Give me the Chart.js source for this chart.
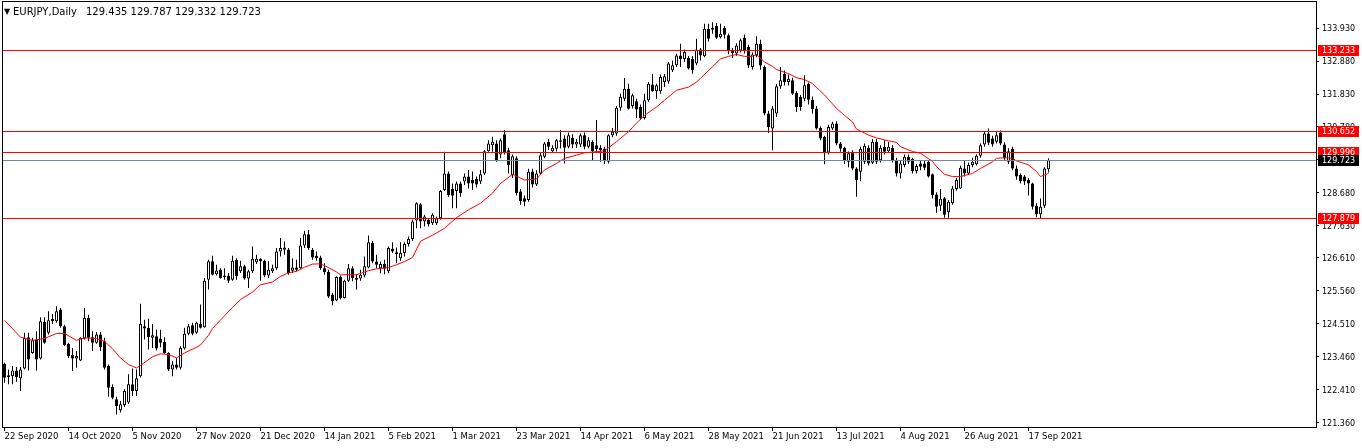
<!DOCTYPE html>
<html><head><meta charset="utf-8">
<script src="https://cdn.jsdelivr.net/npm/chart.js@4"></script>
<style>html,body{margin:0;padding:0;background:#fff;overflow:hidden}#wrap{width:1362px;height:448px}</style>
</head><body><div id="wrap"><canvas id="c" width="1362" height="448"></canvas></div>
<script>
const symbolTitle = 'EURJPY,Daily';
const lastQuote = ['129.435', '129.787', '129.332', '129.723'];

const opens = [
123.23,122.87,122.84,123.02,122.77,123.08,124.08,123.58,124.01,123.40,
124.57,124.22,124.66,124.59,124.96,124.43,123.87,123.51,123.40,123.34,
124.04,124.70,124.08,123.90,124.17,123.95,123.16,122.50,122.10,121.75,
121.92,122.00,122.58,122.37,122.84,124.43,124.38,124.06,124.11,124.04,
123.93,123.58,123.05,123.21,123.11,123.72,124.19,124.46,124.22,124.50,
124.40,125.91,126.50,126.09,126.24,126.05,126.05,125.91,126.55,126.18,
126.34,125.95,126.18,126.47,126.58,126.52,126.05,126.18,126.28,126.81,
126.87,126.87,126.20,126.30,126.28,127.00,127.36,126.87,126.68,126.62,
126.28,126.16,125.44,125.25,126.00,125.33,125.88,126.28,125.91,125.95,
126.05,126.30,127.08,126.49,126.28,126.41,126.18,126.90,126.79,126.60,
126.76,127.05,127.21,127.80,128.32,127.77,127.82,127.71,127.71,127.87,
128.77,129.30,128.80,128.74,128.98,129.04,129.20,129.09,129.12,129.04,
129.30,130.01,130.20,130.25,129.90,130.55,130.04,129.25,129.78,128.72,
128.51,128.45,129.36,128.95,129.30,129.83,130.31,130.01,130.09,130.31,
130.41,130.15,130.44,130.22,130.22,130.52,130.15,130.31,130.20,130.12,
130.09,129.67,130.52,130.57,131.39,131.68,132.00,131.45,131.60,131.42,
131.07,131.63,132.13,131.92,131.92,132.21,132.23,132.59,132.75,133.06,
132.95,132.98,132.95,132.80,133.25,133.03,133.91,133.94,134.00,133.64,
133.94,133.70,133.24,133.12,133.22,133.62,133.33,132.69,133.06,133.43,
132.69,131.21,130.73,131.21,132.08,132.48,132.21,132.27,131.87,131.74,
131.68,132.16,131.65,131.37,130.75,130.47,129.97,130.73,130.89,130.25,
130.12,129.67,129.99,129.46,129.35,129.67,130.12,129.64,130.31,129.72,
130.15,130.01,130.12,129.72,129.30,129.57,129.83,129.76,129.38,129.62,
129.62,129.67,129.27,128.63,128.27,128.51,128.06,128.35,128.80,128.82,
129.46,129.30,129.57,129.59,129.86,130.22,130.57,130.41,130.31,130.60,
130.22,129.67,130.09,129.46,129.25,129.20,129.09,128.98,128.27,128.00,
128.27,129.435];

const highs = [
123.27,123.05,123.16,123.13,123.13,124.22,124.22,124.06,124.27,124.72,
124.72,124.91,124.82,125.07,125.01,124.48,123.90,123.74,123.64,124.08,
125.01,124.80,124.27,124.25,124.25,124.06,123.21,122.58,122.18,122.05,
122.42,122.90,123.08,123.05,125.15,124.64,124.67,124.50,124.32,124.32,
124.08,123.60,123.32,123.42,123.80,124.38,124.50,124.54,124.57,125.12,
125.97,126.55,126.68,126.39,126.28,126.28,126.13,126.68,126.60,126.52,
126.39,126.23,126.97,126.71,126.60,126.55,126.50,126.39,126.92,127.24,
127.13,126.92,126.60,126.55,127.24,127.47,127.50,126.92,126.81,126.68,
126.44,126.23,125.49,126.02,126.05,125.91,126.41,126.34,126.09,126.23,
126.65,127.32,127.15,126.71,126.49,126.55,126.97,127.11,126.94,127.11,
127.11,127.29,127.82,128.38,128.35,127.98,127.87,128.03,127.93,128.77,
129.99,129.36,128.98,129.04,129.04,129.30,129.41,129.36,129.20,129.41,
130.04,130.36,130.47,130.36,130.41,130.68,130.12,129.90,129.85,128.80,
128.60,129.45,129.45,129.40,129.95,130.30,130.40,130.20,130.40,130.68,
130.52,130.60,130.55,130.40,130.57,130.60,130.45,130.36,131.00,130.20,
130.15,130.55,130.75,131.45,131.85,132.34,132.16,131.84,131.68,131.50,
131.84,132.21,132.47,132.16,132.45,132.47,132.85,132.90,133.11,133.43,
133.25,133.04,133.04,133.59,133.30,134.07,134.07,134.12,134.09,134.07,
134.00,133.75,133.30,133.45,133.60,133.73,133.40,133.15,133.67,133.56,
132.74,131.30,131.45,132.15,132.69,132.58,132.45,132.35,131.93,131.80,
132.43,132.20,131.75,131.45,130.80,130.50,130.85,130.95,130.96,130.30,
130.15,130.00,130.04,129.50,130.15,130.25,130.20,130.40,130.40,130.20,
130.36,130.30,130.20,129.80,129.70,129.90,129.90,129.80,129.60,129.72,
129.70,129.72,129.30,128.70,128.80,128.55,128.45,128.90,129.15,129.55,
129.73,129.65,129.80,129.90,130.25,130.63,130.73,130.50,130.63,130.67,
130.29,130.10,130.15,129.55,129.30,129.25,129.15,129.00,128.35,128.50,
129.50,129.787];

const lows = [
122.63,122.58,122.58,122.66,122.37,123.05,123.02,123.55,123.02,123.37,
123.87,124.17,124.50,124.54,124.38,123.80,123.42,123.00,123.11,123.32,
124.01,123.95,123.64,123.87,123.64,123.05,122.18,122.10,121.62,121.68,
121.86,121.95,122.21,122.21,122.80,124.01,123.69,123.74,123.66,123.76,
123.55,123.00,122.84,123.05,123.05,123.69,124.14,124.14,124.19,124.36,
124.38,125.60,126.05,126.05,125.95,125.91,125.81,125.88,125.91,126.13,
125.91,125.65,126.13,126.41,125.88,125.99,125.97,126.13,126.23,126.65,
126.71,126.07,126.13,126.18,126.26,126.92,126.87,126.55,126.52,126.23,
126.07,125.33,125.10,125.23,125.28,125.31,125.84,125.86,125.60,125.88,
125.99,126.28,126.44,126.28,126.12,126.09,126.12,126.76,126.44,126.52,
126.65,126.97,127.15,127.55,127.55,127.61,127.61,127.66,127.66,127.82,
128.74,128.56,128.19,128.19,128.56,128.93,128.82,128.77,128.85,128.96,
129.25,129.99,129.99,129.67,129.78,129.90,129.30,129.15,128.60,128.30,
128.25,128.40,128.85,128.90,129.25,129.78,130.05,129.95,130.00,130.10,
129.62,130.10,130.10,130.12,130.14,130.07,130.10,129.72,129.96,129.67,
129.60,129.62,130.45,130.50,131.30,131.60,131.34,131.37,131.07,131.00,
131.02,131.58,131.90,131.68,131.84,132.05,132.16,132.53,132.69,132.69,
132.85,132.61,132.48,132.75,132.90,133.00,133.50,133.75,133.58,133.60,
133.60,133.10,132.98,133.05,133.15,133.12,132.66,132.60,133.00,132.60,
131.15,130.59,130.04,131.10,132.00,132.10,132.10,131.80,131.26,131.30,
131.60,131.50,131.20,130.70,130.36,129.59,129.90,130.68,130.20,129.99,
129.60,129.50,129.40,128.56,129.05,129.60,129.55,129.60,129.60,129.65,
129.90,129.95,129.65,129.20,129.14,129.50,129.60,129.30,129.30,129.40,
129.40,129.17,128.50,128.05,128.10,127.89,127.89,128.30,128.75,128.80,
129.20,129.25,129.50,129.55,129.80,130.15,130.20,130.15,130.25,130.20,
129.70,129.60,129.40,129.10,128.98,128.93,128.60,128.15,127.90,127.88,
128.20,129.332];

const closes = [
122.79,122.81,123.02,122.81,123.05,124.06,123.37,123.98,123.37,124.59,
123.90,124.62,124.59,124.91,124.43,123.83,123.48,123.40,123.48,124.06,
124.70,124.06,123.90,124.17,123.76,123.11,122.47,122.15,121.89,121.94,
122.37,122.58,122.37,122.77,124.50,124.36,124.08,124.14,123.72,123.90,
123.58,123.05,123.21,123.11,123.74,124.19,124.43,124.19,124.54,124.38,
125.88,126.50,126.07,126.21,125.97,125.99,125.88,126.52,126.02,126.34,
125.95,126.18,126.58,126.58,126.50,126.05,126.23,126.28,126.81,126.92,
126.94,126.13,126.30,126.23,127.00,127.36,126.92,126.62,126.60,126.28,
126.16,125.38,125.23,126.00,125.33,125.88,126.28,125.97,125.97,126.07,
126.34,127.11,126.49,126.39,126.41,126.26,126.92,126.81,126.73,126.76,
127.05,127.21,127.77,128.35,127.77,127.93,127.68,127.98,127.87,128.74,
129.30,128.61,128.59,128.98,128.67,129.20,128.98,128.98,128.95,129.27,
130.01,130.25,130.31,129.69,130.36,129.95,129.57,129.85,128.67,128.42,
128.40,129.35,128.95,129.30,129.88,130.25,130.15,130.12,130.36,130.36,
130.12,130.52,130.22,130.31,130.52,130.15,130.36,130.01,130.07,130.04,
129.69,130.52,130.63,131.39,131.74,132.00,131.36,131.79,131.34,131.05,
131.63,132.16,131.92,132.11,132.37,132.40,132.80,132.75,133.06,132.95,
133.17,132.64,132.59,133.25,133.06,133.91,133.59,133.88,133.62,133.75,
133.72,133.20,133.14,133.38,133.54,133.20,132.74,133.09,133.43,132.74,
131.21,130.78,131.37,132.08,132.27,132.21,132.32,131.84,131.42,131.42,
132.11,131.65,131.35,130.73,130.41,129.94,130.78,130.89,130.25,130.09,
129.69,129.94,129.46,129.09,130.09,130.18,129.62,130.31,129.67,130.12,
129.99,130.15,129.72,129.30,129.62,129.83,129.67,129.38,129.54,129.51,
129.48,129.20,128.61,128.24,128.49,127.98,128.40,128.82,129.09,129.48,
129.30,129.57,129.67,129.86,130.20,130.57,130.28,130.22,130.52,130.25,
129.78,130.01,129.46,129.20,129.06,129.04,128.98,128.24,128.00,128.24,
129.46,129.723];

const maBars = [0,4,7,10,13,15,18,20,23,25,27,29,31,33,34,37,39,41,43,45,48,49,51,52,57,59,62,64,67,69,71,73,75,77,79,81,83,84,88,91,93,96,98,100,102,104,107,110,113,116,119,122,124,127,130,133,135,138,140,143,145,148,150,153,156,158,160,163,165,168,171,173,174,177,179,181,183,185,187,188,190,192,193,196,198,200,202,205,208,210,212,213,216,218,221,223,224,227,229,232,233,235,237,239,242,244,247,248,250,252,253,256,258,259,261];
const maValues = [124.62,124.08,123.98,124.04,124.20,124.20,123.98,124.06,124.04,123.95,123.71,123.42,123.21,123.10,123.18,123.46,123.55,123.53,123.42,123.58,123.76,123.83,124.14,124.36,125.03,125.28,125.52,125.75,125.84,126.02,126.13,126.18,126.31,126.41,126.42,126.30,126.16,126.07,126.07,126.20,126.26,126.30,126.39,126.49,126.62,127.14,127.33,127.55,127.89,128.14,128.35,128.67,128.98,129.27,129.09,129.12,129.41,129.62,129.78,129.88,129.96,129.99,130.02,130.31,130.63,130.90,131.15,131.42,131.63,131.95,132.05,132.21,132.33,132.70,132.95,133.03,133.09,133.03,133.03,133.09,132.85,132.71,132.61,132.48,132.35,132.29,132.16,131.80,131.37,131.15,130.94,130.71,130.52,130.43,130.34,130.29,130.15,130.00,129.94,129.68,129.52,129.27,129.20,129.20,129.30,129.46,129.67,129.78,129.80,129.78,129.70,129.57,129.36,129.20,129.30];

const dateTickBars = [0,16,32,48,64,80,96,112,128,144,160,176,192,208,224,240,256];
const dateTickLabels = ['22 Sep 2020','14 Oct 2020','5 Nov 2020','27 Nov 2020','21 Dec 2020','14 Jan 2021','5 Feb 2021','1 Mar 2021','23 Mar 2021','14 Apr 2021','6 May 2021','28 May 2021','21 Jun 2021','13 Jul 2021','4 Aug 2021','26 Aug 2021','17 Sep 2021'];
const priceTicks = [133.930,132.880,131.830,130.780,129.730,128.680,127.630,126.610,125.560,124.510,123.460,122.410,121.360];
const levelLines = [133.233, 130.652, 129.996, 127.879];
const bidPrice = 129.723;

const AX_FONT = '"DejaVu Sans", sans-serif';

const wickData = highs.map((h, i) => ({x: i, y: [lows[i], h]}));
const bodyData = opens.map((o, i) => ({x: i, y: [Math.min(o, closes[i]), Math.max(o, closes[i])]}));
const maData = maBars.map((b, k) => ({x: b, y: maValues[k]}));

const mt4Plugin = {
  id: 'mt4',
  beforeDraw(chart) {
    const c = chart.ctx;
    c.save(); c.fillStyle = '#fff'; c.fillRect(0, 0, chart.width, chart.height); c.restore();
  },
  afterDatasetsDraw(chart) {
    const c = chart.ctx, a = chart.chartArea, y = chart.scales.y;
    const w = a.right - a.left;
    c.save();
    c.fillStyle = '#778899';
    c.fillRect(a.left, Math.round(y.getPixelForValue(bidPrice)), w, 1);
    c.fillStyle = '#ff0000';
    levelLines.forEach(v => c.fillRect(a.left, Math.round(y.getPixelForValue(v)), w, 1));
    c.fillStyle = '#000';
    c.fillRect(a.left, a.top, w + 1, 1);
    c.fillRect(a.left, a.bottom, w + 1, 1);
    c.fillRect(a.left, a.top, 1, a.bottom - a.top + 1);
    c.fillRect(a.right, a.top, 1, a.bottom - a.top + 1);
    c.textBaseline = 'middle';
    c.font = '8px ' + AX_FONT;
    c.fillText('\u25BC', a.left + 2, a.top + 10.5);
    c.font = '10px ' + AX_FONT;
    c.fillText(symbolTitle, a.left + 11, a.top + 11);
    c.fillText(lastQuote.join(' '), a.left + 84, a.top + 11);
    c.restore();
  },
  afterDraw(chart) {
    const c = chart.ctx, a = chart.chartArea, y = chart.scales.y;
    c.save();
    c.font = '8px ' + AX_FONT;
    c.textBaseline = 'middle';
    const box = (v, bg) => {
      const p = Math.round(y.getPixelForValue(v));
      c.fillStyle = bg;
      c.fillRect(a.right + 2, p - 5, 41, 11);
      c.fillStyle = '#fff';
      c.fillText(v.toFixed(3), a.right + 6, p + 0.5);
    };
    levelLines.forEach(v => box(v, '#ff0000'));
    box(bidPrice, '#000');
    c.restore();
  }
};

new Chart(document.getElementById('c'), {
  type: 'bar',
  data: {
    datasets: [
      { type: 'line', data: maData, borderColor: '#ff0000', borderWidth: 1, pointRadius: 0, tension: 0, order: 0 },
      { data: bodyData, barThickness: 3, borderWidth: 1, borderColor: '#000', borderSkipped: false, minBarLength: 1,
        inflateAmount: 0, grouped: false, order: 1,
        backgroundColor: ctx => closes[ctx.dataIndex] >= opens[ctx.dataIndex] ? '#fff' : '#000' },
      { data: wickData, barThickness: 1, borderWidth: 0, backgroundColor: '#000', inflateAmount: 0, grouped: false, order: 2 }
    ]
  },
  options: {
    responsive: false,
    devicePixelRatio: 1,
    animation: false,
    events: [],
    layout: { padding: { left: 2, top: 1, right: 0, bottom: 0 } },
    plugins: { legend: { display: false }, tooltip: { enabled: false }, title: { display: false } },
    scales: {
      x: {
        type: 'linear',
        offset: false,
        min: -0.625, max: 327.875,
        afterBuildTicks: s => { s.ticks = dateTickBars.map(v => ({ value: v })); },
        afterFit: s => { s.height = 21; s.paddingLeft = 0; s.paddingRight = 0; },
        grid: { drawOnChartArea: false, drawTicks: true, tickLength: 4, color: '#000', offset: false },
        border: { display: false },
        ticks: {
          autoSkip: false, maxRotation: 0, minRotation: 0, align: 'start', padding: 1,
          color: '#000', font: { family: AX_FONT, size: 8.5 },
          callback: v => dateTickLabels[dateTickBars.indexOf(v)]
        }
      },
      y: {
        position: 'right',
        offset: false,
        min: 121.219, max: 134.7945,
        afterBuildTicks: s => { s.ticks = priceTicks.map(v => ({ value: v })); },
        afterFit: s => { s.width = 46; s.paddingTop = 0; s.paddingBottom = 0; },
        grid: { drawOnChartArea: false, drawTicks: true, tickLength: 3, color: '#000' },
        border: { display: false },
        ticks: { padding: 3, labelOffset: 1, color: '#000', font: { family: AX_FONT, size: 8 }, callback: v => v.toFixed(3) }
      }
    }
  },
  plugins: [mt4Plugin]
});
</script>
</body></html>
